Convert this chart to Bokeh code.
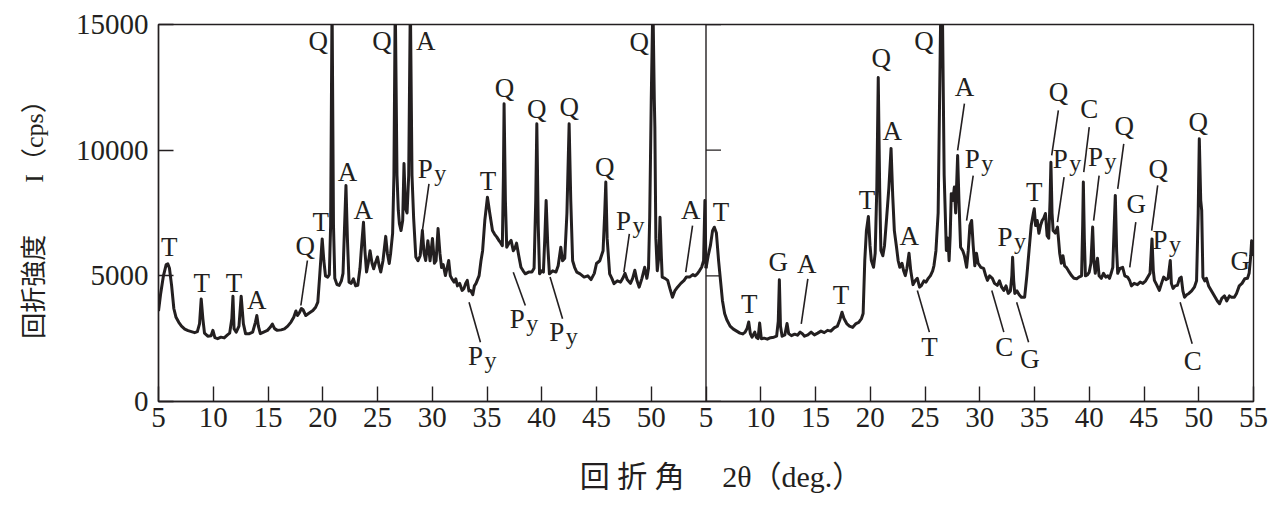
from bokeh.plotting import figure
from bokeh.models import Range1d, FixedTicker, Span
from bokeh.core.properties import value
from bokeh.embed import file_html
from bokeh.resources import INLINE

# ---------------- data ----------------
# left panel: 2theta (deg) and intensity (cps)
left_x = [5.0, 5.2, 5.45, 5.7, 5.85, 6.0, 6.2, 6.4, 6.6, 6.85, 7.1, 7.4, 7.7, 8.0, 8.3, 8.55, 8.75, 8.9, 9.05, 9.2,
          9.5, 9.8, 9.97, 10.15, 10.4, 10.7, 11.0, 11.3, 11.5, 11.7, 11.8, 11.9, 12.1, 12.35, 12.55, 12.75, 12.95, 13.3, 13.6, 13.85,
          13.98, 14.12, 14.3, 14.6, 14.95, 15.2, 15.4, 15.6, 15.85, 16.2, 16.5, 16.8, 17.1, 17.35, 17.55, 17.7, 17.85, 18.05, 18.2, 18.45,
          18.7, 18.9, 19.1, 19.35, 19.55, 19.72, 19.95, 20.1, 20.25, 20.45, 20.6, 20.72, 20.85, 20.98, 21.1, 21.3, 21.5, 21.7, 21.85, 21.98,
          22.12, 22.25, 22.4, 22.6, 22.8, 23.0, 23.2, 23.4, 23.55, 23.72, 23.85, 24.0, 24.15, 24.32, 24.5, 24.65, 24.8, 25.0, 25.15, 25.3,
          25.5, 25.75, 25.9, 26.07, 26.2, 26.38, 26.5, 26.62, 26.78, 26.9, 27.0, 27.15, 27.3, 27.42, 27.55, 27.7, 27.85, 28.0, 28.15, 28.3,
          28.5, 28.7, 28.9, 29.1, 29.25, 29.4, 29.6, 29.8, 30.02, 30.2, 30.35, 30.53, 30.7, 30.85, 31.0, 31.2, 31.4, 31.5, 31.65, 31.8,
          32.0, 32.15, 32.3, 32.5, 32.73, 32.9, 33.05, 33.2, 33.35, 33.5, 33.7, 33.85, 34.0, 34.28, 34.45, 34.6, 34.8, 35.04, 35.25, 35.5,
          35.7, 35.9, 36.1, 36.2, 36.4, 36.5, 36.56, 36.68, 36.8, 37.0, 37.2, 37.4, 37.55, 37.7, 37.9, 38.1, 38.3, 38.5, 38.8, 39.1,
          39.3, 39.45, 39.55, 39.68, 39.8, 40.0, 40.15, 40.28, 40.4, 40.55, 40.7, 41.0, 41.3, 41.5, 41.74, 41.9, 42.1, 42.3, 42.5, 42.65,
          42.82, 43.0, 43.2, 43.5, 43.87, 44.2, 44.5, 44.8, 45.0, 45.3, 45.6, 45.75, 45.85, 45.97, 46.2, 46.4, 46.6, 46.9, 47.2, 47.4,
          47.6, 47.8, 48.1, 48.3, 48.5, 48.7, 48.9, 49.15, 49.4, 49.6, 49.75, 49.86, 50.0, 50.15, 50.28, 50.33, 50.42, 50.55, 50.7, 50.8,
          50.92, 51.0, 51.25, 51.5, 51.7, 51.94, 52.15, 52.4, 52.7, 53.0, 53.2, 53.5, 53.8, 54.0, 54.2, 54.4, 54.6, 54.78, 54.9, 55.0]
left_y = [3600, 4300, 5000, 5450, 5480, 5300, 4600, 3700, 3350, 3150, 3000, 2880, 2820, 2780, 2740, 2780, 3100, 4080, 3300, 2720,
          2600, 2620, 2830, 2540, 2500, 2560, 2530, 2650, 2720, 3300, 4190, 2900, 2760, 3000, 4190, 3100, 2700, 2700, 2760, 3150,
          3420, 3000, 2700, 2760, 2830, 2950, 3080, 2900, 2830, 2850, 2890, 3000, 3160, 3350, 3600, 3420, 3520, 3700, 3650, 3420,
          3500, 3560, 3620, 3750, 3950, 5000, 6470, 5600, 5000, 4950, 5050, 7000, 16000, 7000, 4900, 4650, 4620, 4800, 5100, 6800,
          8590, 6500, 4750, 4700, 4880, 4600, 4620, 5300, 6200, 7130, 6000, 5150, 5500, 6000, 5500, 5280, 5500, 5750, 5400, 5150,
          5600, 6570, 5900, 5490, 5900, 6690, 9000, 16000, 9000, 7600, 7080, 6800, 7200, 9470, 7700, 7500, 9000, 16000, 9000, 7300,
          5750, 5600, 5800, 6800, 5900, 5610, 6400, 5600, 6490, 5500, 5600, 6880, 5900, 5330, 5450, 5010, 5400, 5610, 5000, 4880,
          4750, 4880, 4600, 4700, 4420, 4500, 4700, 4820, 4400, 4420, 4250, 4600, 4700, 5010, 5600, 6000, 7200, 8130, 7500, 6800,
          6650, 6540, 6400, 6350, 6200, 9000, 11850, 8000, 6140, 6300, 6410, 6000, 6100, 6300, 5800, 5340, 5200, 5080, 5150, 5150,
          5300, 8000, 11050, 7000, 5080, 5200, 5150, 6500, 8000, 6200, 5080, 5200, 5150, 5400, 6140, 5600, 5700, 7500, 11050, 8000,
          5600, 5340, 5150, 5080, 4950, 5000, 4850, 5100, 5490, 5600, 6000, 7500, 8730, 6500, 5080, 4900, 4690, 4800, 4750, 4900,
          5100, 4850, 4700, 4900, 5220, 4800, 4550, 4900, 5340, 4900, 5300, 7330, 12000, 16000, 12000, 10900, 6500, 5200, 5800, 7330,
          5800, 4950, 4900, 4820, 4500, 4150, 4400, 4550, 4700, 4820, 4950, 4950, 5050, 5000, 5080, 5200, 5340, 5600, 8000, 5300]

# right panel
right_x = [5.0, 5.2, 5.4, 5.6, 5.76, 5.95, 6.15, 6.35, 6.5, 6.7, 6.9, 7.2, 7.5, 7.8, 8.1, 8.35, 8.55, 8.75, 8.9, 9.05,
           9.2, 9.45, 9.6, 9.75, 9.9, 10.05, 10.3, 10.6, 10.9, 11.2, 11.45, 11.6, 11.7, 11.8, 11.95, 12.2, 12.4, 12.55, 12.8, 13.1,
           13.35, 13.6, 13.8, 14.0, 14.3, 14.6, 14.9, 15.2, 15.5, 15.8, 16.1, 16.4, 16.7, 17.0, 17.2, 17.42, 17.6, 17.85, 18.1, 18.4,
           18.7, 18.95, 19.2, 19.35, 19.5, 19.65, 19.83, 19.98, 20.1, 20.3, 20.45, 20.6, 20.73, 20.86, 20.97, 21.15, 21.3, 21.5, 21.7, 21.9,
           22.05, 22.2, 22.4, 22.55, 22.7, 22.9, 23.05, 23.2, 23.35, 23.54, 23.7, 23.9, 24.1, 24.3, 24.5, 24.67, 24.9, 25.1, 25.3, 25.5,
           25.7, 25.82, 26.0, 26.2, 26.45, 26.58, 26.75, 26.95, 27.1, 27.2, 27.3, 27.4, 27.55, 27.68, 27.8, 27.98, 28.1, 28.25, 28.45, 28.6,
           28.8, 28.95, 29.1, 29.26, 29.4, 29.55, 29.7, 29.85, 30.1, 30.35, 30.55, 30.7, 30.9, 31.15, 31.35, 31.6, 31.8, 32.0, 32.2, 32.4,
           32.6, 32.8, 32.93, 33.0, 33.1, 33.2, 33.4, 33.6, 33.8, 34.1, 34.3, 34.5, 34.7, 34.9, 34.98, 35.1, 35.25, 35.4, 35.55, 35.7,
           35.85, 36.0, 36.15, 36.3, 36.42, 36.5, 36.6, 36.7, 36.9, 37.1, 37.3, 37.45, 37.6, 37.75, 37.9, 38.1, 38.4, 38.6, 38.85, 39.05,
           39.3, 39.4, 39.46, 39.55, 39.65, 39.85, 40.0, 40.15, 40.31, 40.42, 40.55, 40.75, 40.9, 41.1, 41.3, 41.5, 41.7, 41.85, 42.0, 42.15,
           42.28, 42.38, 42.5, 42.6, 42.8, 43.05, 43.25, 43.5, 43.7, 43.85, 44.1, 44.4, 44.65, 44.9, 45.15, 45.35, 45.55, 45.73, 45.85, 45.95,
           46.15, 46.4, 46.6, 46.8, 47.0, 47.2, 47.4, 47.5, 47.65, 47.85, 48.05, 48.25, 48.4, 48.55, 48.7, 48.9, 49.1, 49.35, 49.6, 49.8,
           49.95, 50.05, 50.18, 50.27, 50.38, 50.55, 50.7, 50.9, 51.1, 51.3, 51.5, 51.7, 51.9, 52.1, 52.35, 52.55, 52.8, 53.0, 53.25, 53.45,
           53.7, 53.95, 54.2, 54.45, 54.6, 54.75, 54.83, 54.92, 55.0]
right_y = [5300, 5800, 6200, 6800, 6935, 6700, 5600, 4700, 4020, 3500, 3250, 3000, 2880, 2800, 2720, 2690, 2750, 2900, 3160, 2700,
           2560, 2760, 2550, 2500, 3120, 2500, 2520, 2480, 2540, 2560, 2600, 3200, 4840, 3000, 2600, 2650, 3100, 2700, 2620, 2680,
           2640, 2760, 2700, 2600, 2650, 2760, 2650, 2720, 2800, 2740, 2830, 2800, 2930, 3000, 3220, 3550, 3300, 3100, 3000, 2950,
           3100, 3150, 3300, 3500, 5610, 6800, 7360, 6200, 5610, 5340, 5900, 8500, 12890, 8500, 6010, 5800, 6200, 7330, 8500, 10070,
           8200, 6800, 6140, 5600, 5340, 5500, 5200, 5010, 5300, 5900, 5200, 4650, 4800, 4900, 4550, 4615, 4800, 4750, 4900, 5010,
           5200, 5410, 6000, 7500, 16000, 16000, 9000, 6010, 6500, 5600, 6600, 8270, 8000, 8530, 7500, 9790, 8000, 6140, 6000, 5800,
           5340, 6000, 7000, 7200, 6200, 5400, 5900, 5500, 5340, 5300, 5000, 4820, 5000, 4900, 4700, 4620, 4800, 4550, 4420, 4600,
           4300, 4400, 5000, 5740, 4800, 4300, 4400, 4250, 4150, 4150, 5000, 6000, 7000, 7500, 7670, 7000, 7200, 6690, 7000, 7200,
           7300, 7480, 6600, 6500, 8000, 9520, 7500, 6800, 6700, 6940, 5900, 5500, 5800, 5400, 5340, 5200, 5000, 4900, 4880, 4950,
           5000, 7000, 8730, 6500, 5000, 5050, 5150, 5500, 6940, 5600, 5100, 5700, 5000, 4900, 5100, 4950, 5000, 4900, 5100, 5340,
           7000, 8200, 6000, 5100, 5300, 5340, 5000, 4950, 4800, 4600, 4700, 4650, 4750, 4700, 4800, 4950, 5100, 6470, 5200, 4820,
           4650, 4420, 4700, 4950, 4850, 4900, 5610, 4700, 4500, 4600, 4620, 4900, 4950, 4400, 4150, 4250, 4300, 4400, 4550, 4800,
           7500, 10450, 8000, 7600, 4950, 4800, 4900, 4600, 4450, 4300, 4150, 4000, 3890, 4100, 4200, 4000, 4200, 4150, 4150, 4300,
           4600, 4700, 4880, 4900, 5100, 5800, 6400, 5900, 5800]

# peak labels: text, 2theta, intensity
left_lab_text = ["T", "T", "T", "A", "Q", "T", "Q", "A", "A", "Q", "A", "Py", "Py", "T", "Q", "Q", "Q", "Q", "Q", "Py", "A", "Py", "Py"]
left_lab_x = [5.97, 8.95, 11.9, 13.98, 18.4, 19.82, 19.6, 22.26, 23.7, 25.4, 29.4, 30.0, 34.6, 35.1, 36.6, 39.55, 42.5, 45.76, 48.9, 48.1, 53.6, 38.4, 42.0]
left_lab_y = [6140, 4700, 4730, 4020, 6200, 7130, 14360, 9130, 7630, 14360, 14360, 9260, 1830, 8790, 12480, 11650, 11710, 9330, 14300, 7200, 7600, 3290, 2760]

right_lab_text = ["T", "T", "G", "A", "T", "T", "Q", "A", "Q", "A", "T", "Py", "A", "Py", "T", "Q", "Py", "C", "Py", "Q", "G", "Q", "Py", "Q", "G", "C", "G", "C"]
right_lab_x = [6.37, 8.95, 11.6, 14.2, 17.33, 19.7, 21.0, 22.0, 24.9, 23.57, 25.4, 29.96, 28.6, 32.95, 34.98, 37.2, 38.0, 40.0, 41.2, 43.2, 44.3, 46.3, 47.1, 49.96, 53.8, 32.24, 34.6, 49.45]
right_lab_y = [7530, 3860, 5540, 5480, 4220, 8000, 13650, 10780, 14360, 6600, 2160, 9660, 12510, 6540, 8330, 12310, 9660, 11650, 9720, 10980, 7870, 9260, 6410, 11110, 5610, 2160, 1700, 1630]

# leader lines (from label to peak)
left_lead_x0 = [18.6, 29.7, 33.36, 48.0, 53.77, 37.4, 40.76]
left_lead_y0 = [5610, 8660, 3950, 6670, 7000, 5145, 4950]
left_lead_x1 = [18.0, 29.1, 34.4, 47.5, 53.15, 38.5, 41.9]
left_lead_y1 = [3820, 6800, 2360, 5145, 5145, 3820, 3290]

right_lead_x0 = [14.3, 24.3, 29.4, 28.6, 37.18, 37.7, 40.0, 40.9, 43.15, 44.25, 46.25, 31.1, 33.37, 48.3]
right_lead_y0 = [4880, 4420, 8990, 11850, 11580, 8930, 10920, 8990, 10250, 7140, 8600, 4420, 3950, 3950]
right_lead_x1 = [13.7, 25.4, 28.8, 27.98, 36.57, 37.1, 39.5, 40.4, 42.6, 43.7, 45.7, 32.2, 34.46, 49.4]
right_lead_y1 = [3090, 2760, 7200, 9990, 9790, 7140, 9130, 7200, 8460, 5340, 6800, 2760, 2360, 2300]

x_ticks_left = [5, 10, 15, 20, 25, 30, 35, 40, 45, 50]
x_ticks_right = [5, 10, 15, 20, 25, 30, 35, 40, 45, 50, 55]
y_ticks = [0, 5000, 10000, 15000]

# ---------------- figure ----------------
INK = "#231f20"
SERIF = "Liberation Serif"
LEFT_SPAN = 50  # width of each panel in degrees

p = figure(frame_width=1095, frame_height=377,
           min_border_left=158, min_border_right=20, min_border_top=24, min_border_bottom=100,
           x_range=Range1d(5, 5 + 2 * LEFT_SPAN), y_range=Range1d(0, 15000),
           output_backend="svg", toolbar_location=None,
           background_fill_color="white", border_fill_color="white")
p.extra_x_ranges = {"r": Range1d(5 - LEFT_SPAN, 55)}

p.grid.visible = False
p.outline_line_color = INK
p.outline_line_width = 1.4

# x axis ticks: left panel at their values, right panel shifted through the panel width
tick_pos = list(x_ticks_left) + [t + LEFT_SPAN for t in x_ticks_right]
overrides = {t + LEFT_SPAN: str(t) for t in x_ticks_right}
p.xaxis.ticker = FixedTicker(ticks=tick_pos, minor_ticks=[])
p.xaxis.major_label_overrides = overrides
p.yaxis.ticker = FixedTicker(ticks=y_ticks, minor_ticks=[])

for ax in (p.xaxis[0], p.yaxis[0]):
    ax.axis_line_color = INK
    ax.axis_line_width = 1.4
    ax.major_tick_line_color = INK
    ax.major_tick_line_width = 1.4
    ax.major_tick_in = 15
    ax.major_tick_out = 0
    ax.minor_tick_in = 0
    ax.minor_tick_out = 0
    ax.major_label_text_font = SERIF
    ax.major_label_text_font_size = "29px"
    ax.major_label_text_color = INK
    ax.axis_label_text_font = "Liberation Serif, Noto Sans CJK JP"
    ax.axis_label_text_font_style = "normal"
    ax.axis_label_text_color = INK

p.xaxis.major_label_standoff = 6
p.yaxis.major_label_standoff = 10
p.xaxis.axis_label = "\u3000回 折 角\u3000 2\u03b8（deg.）"
p.xaxis.axis_label_text_font_size = "30px"
p.xaxis.axis_label_standoff = 30
p.yaxis.axis_label = "回折強度\u3000\u3000I（cps）"
p.yaxis.axis_label_text_font_size = "26px"
p.yaxis.axis_label_standoff = 24

# divider between the two panels
p.add_layout(Span(location=5 + LEFT_SPAN, dimension="height", line_color=INK, line_width=1.4))
# inward y ticks of the right panel
p.ray(x=[5] * len(y_ticks), y=y_ticks, length=15, length_units="screen", angle=0,
      x_range_name="r", line_color=INK, line_width=1.4)

# curves
p.line(left_x, left_y, line_color=INK, line_width=3.0, line_join="round")
p.line(right_x, right_y, line_color=INK, line_width=3.0, line_join="round", x_range_name="r")

# leader lines
p.segment(left_lead_x0, left_lead_y0, left_lead_x1, left_lead_y1, line_color=INK, line_width=1.6)
p.segment(right_lead_x0, right_lead_y0, right_lead_x1, right_lead_y1, line_color=INK, line_width=1.6,
          x_range_name="r")


def draw_labels(xs, ys, texts, rng):
    kw = {} if rng is None else {"x_range_name": rng}
    main_t = ["P" if t == "Py" else t for t in texts]
    off = [-7 if t == "Py" else 0 for t in texts]
    p.text(xs, ys, text=main_t, x_offset=off, text_font=value(SERIF), text_font_size="27px",
           text_align="center", text_baseline="middle", text_color=INK, **kw)
    sx = [x for x, t in zip(xs, texts) if t == "Py"]
    sy = [y for y, t in zip(ys, texts) if t == "Py"]
    p.text(sx, sy, text=["y"] * len(sx), x_offset=8, y_offset=4, text_font=value(SERIF),
           text_font_size="24px", text_align="center", text_baseline="middle", text_color=INK, **kw)


draw_labels(left_lab_x, left_lab_y, left_lab_text, None)
draw_labels(right_lab_x, right_lab_y, right_lab_text, "r")

open("out.html", "w").write(file_html(p, INLINE))
